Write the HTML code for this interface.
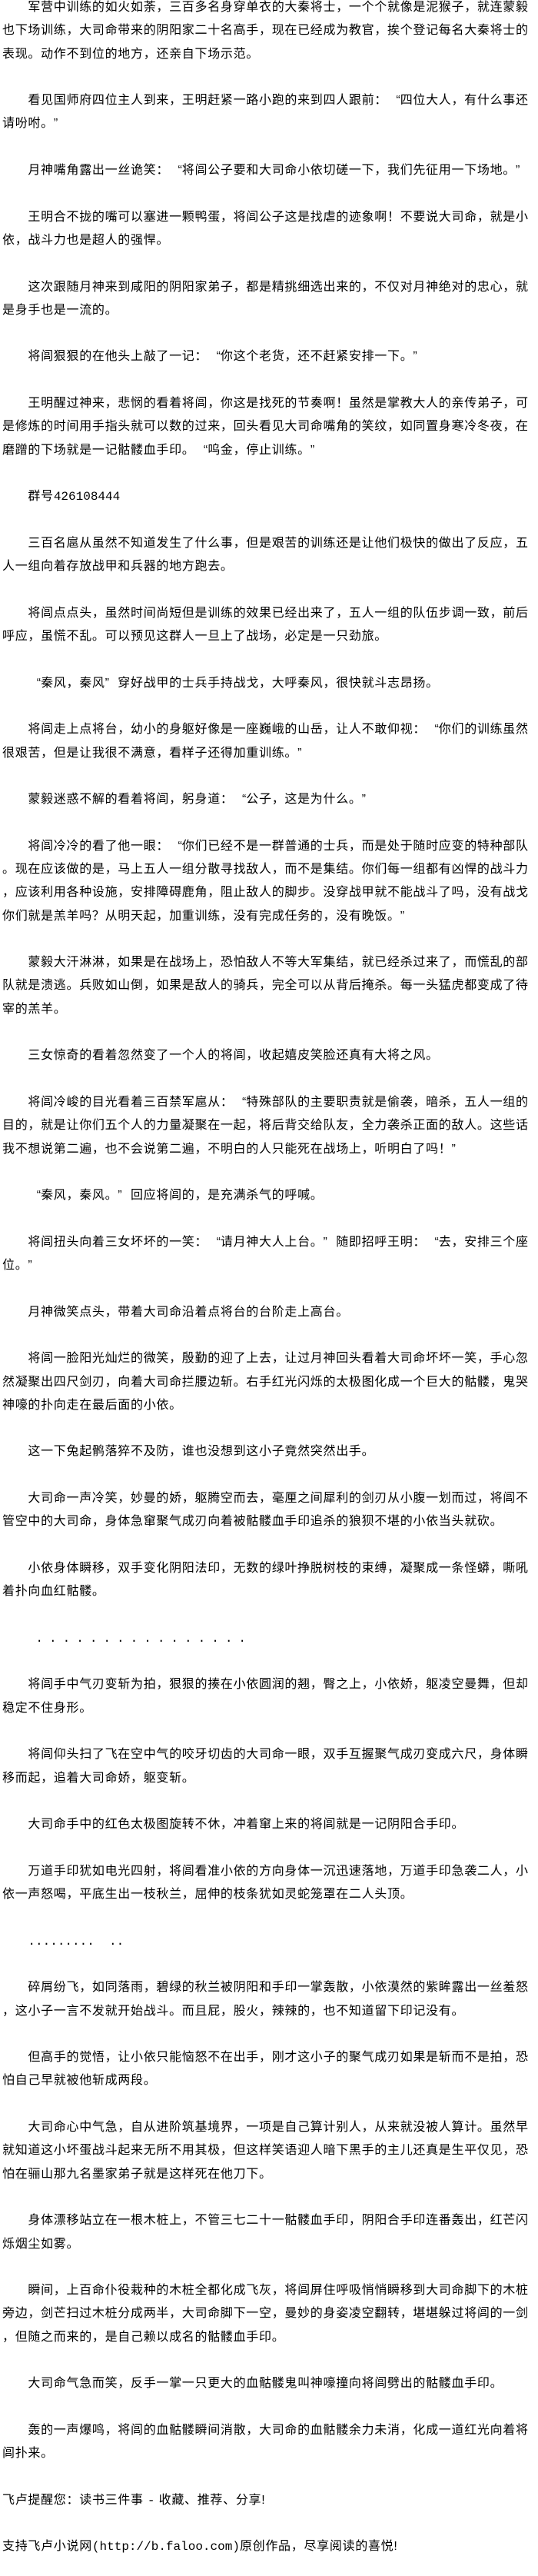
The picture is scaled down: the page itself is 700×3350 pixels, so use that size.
<!DOCTYPE html>
<html><head><meta charset="utf-8">
<style>
html,body{margin:0;padding:0;background:#fff;}
body{width:700px;height:3350px;overflow:hidden;}
.t{margin-top:-5px;padding-left:3px;font-family:"Liberation Sans","Noto Sans CJK SC","WenQuanYi Zen Hei",sans-serif;font-size:16px;letter-spacing:0.7px;line-height:30.3px;color:#000;white-space:pre;}
.m{font-family:"Liberation Mono",monospace;letter-spacing:0;}
.d{font-family:"Liberation Mono",monospace;letter-spacing:8px;padding-left:10px;}
.ql,.qr{display:inline-block;width:16.7px;letter-spacing:0;}
.ql{text-align:right;}
.qr{text-align:left;}
</style></head><body>
<div class="t">　　军营中训练的如火如荼，三百多名身穿单衣的大秦将士，一个个就像是泥猴子，就连蒙毅
也下场训练，大司命带来的阴阳家二十名高手，现在已经成为教官，挨个登记每名大秦将士的
表现。动作不到位的地方，还亲自下场示范。

　　看见国师府四位主人到来，王明赶紧一路小跑的来到四人跟前：<span class="ql">“</span>四位大人，有什么事还
请吩咐。<span class="qr">”</span>

　　月神嘴角露出一丝诡笑：<span class="ql">“</span>将闾公子要和大司命小依切磋一下，我们先征用一下场地。<span class="qr">”</span>

　　王明合不拢的嘴可以塞进一颗鸭蛋，将闾公子这是找虐的迹象啊！不要说大司命，就是小
依，战斗力也是超人的强悍。

　　这次跟随月神来到咸阳的阴阳家弟子，都是精挑细选出来的，不仅对月神绝对的忠心，就
是身手也是一流的。

　　将闾狠狠的在他头上敲了一记：<span class="ql">“</span>你这个老货，还不赶紧安排一下。<span class="qr">”</span>

　　王明醒过神来，悲悯的看着将闾，你这是找死的节奏啊！虽然是掌教大人的亲传弟子，可
是修炼的时间用手指头就可以数的过来，回头看见大司命嘴角的笑纹，如同置身寒冷冬夜，在
磨蹭的下场就是一记骷髅血手印。<span class="ql">“</span>呜金，停止训练。<span class="qr">”</span>

　　群号<span class="m">426108444</span>

　　三百名扈从虽然不知道发生了什么事，但是艰苦的训练还是让他们极快的做出了反应，五
人一组向着存放战甲和兵器的地方跑去。

　　将闾点点头，虽然时间尚短但是训练的效果已经出来了，五人一组的队伍步调一致，前后
呼应，虽慌不乱。可以预见这群人一旦上了战场，必定是一只劲旅。

　　<span class="ql">“</span>秦风，秦风<span class="qr">”</span>穿好战甲的士兵手持战戈，大呼秦风，很快就斗志昂扬。

　　将闾走上点将台，幼小的身躯好像是一座巍峨的山岳，让人不敢仰视：<span class="ql">“</span>你们的训练虽然
很艰苦，但是让我很不满意，看样子还得加重训练。<span class="qr">”</span>

　　蒙毅迷惑不解的看着将闾，躬身道：<span class="ql">“</span>公子，这是为什么。<span class="qr">”</span>

　　将闾冷冷的看了他一眼：<span class="ql">“</span>你们已经不是一群普通的士兵，而是处于随时应变的特种部队
。现在应该做的是，马上五人一组分散寻找敌人，而不是集结。你们每一组都有凶悍的战斗力
，应该利用各种设施，安排障碍鹿角，阻止敌人的脚步。没穿战甲就不能战斗了吗，没有战戈
你们就是羔羊吗？从明天起，加重训练，没有完成任务的，没有晚饭。<span class="qr">”</span>

　　蒙毅大汗淋淋，如果是在战场上，恐怕敌人不等大军集结，就已经杀过来了，而慌乱的部
队就是溃逃。兵败如山倒，如果是敌人的骑兵，完全可以从背后掩杀。每一头猛虎都变成了待
宰的羔羊。

　　三女惊奇的看着忽然变了一个人的将闾，收起嬉皮笑脸还真有大将之风。

　　将闾冷峻的目光看着三百禁军扈从：<span class="ql">“</span>特殊部队的主要职责就是偷袭，暗杀，五人一组的
目的，就是让你们五个人的力量凝聚在一起，将后背交给队友，全力袭杀正面的敌人。这些话
我不想说第二遍，也不会说第二遍，不明白的人只能死在战场上，听明白了吗！<span class="qr">”</span>

　　<span class="ql">“</span>秦风，秦风。<span class="qr">”</span>回应将闾的，是充满杀气的呼喊。

　　将闾扭头向着三女坏坏的一笑：<span class="ql">“</span>请月神大人上台。<span class="qr">”</span>随即招呼王明：<span class="ql">“</span>去，安排三个座
位。<span class="qr">”</span>

　　月神微笑点头，带着大司命沿着点将台的台阶走上高台。

　　将闾一脸阳光灿烂的微笑，殷勤的迎了上去，让过月神回头看着大司命坏坏一笑，手心忽
然凝聚出四尺剑刃，向着大司命拦腰边斩。右手红光闪烁的太极图化成一个巨大的骷髅，鬼哭
神嚎的扑向走在最后面的小依。

　　这一下兔起鹘落猝不及防，谁也没想到这小子竟然突然出手。

　　大司命一声冷笑，妙曼的娇，躯腾空而去，毫厘之间犀利的剑刃从小腹一划而过，将闾不
管空中的大司命，身体急窜聚气成刃向着被骷髅血手印追杀的狼狈不堪的小依当头就砍。

　　小依身体瞬移，双手变化阴阳法印，无数的绿叶挣脱树枝的束缚，凝聚成一条怪蟒，嘶吼
着扑向血红骷髅。

　　<span class="d">................</span>

　　将闾手中气刃变斩为拍，狠狠的揍在小依圆润的翘，臀之上，小依娇，躯凌空曼舞，但却
稳定不住身形。

　　将闾仰头扫了飞在空中气的咬牙切齿的大司命一眼，双手互握聚气成刃变成六尺，身体瞬
移而起，追着大司命娇，躯变斩。

　　大司命手中的红色太极图旋转不休，冲着窜上来的将闾就是一记阴阳合手印。

　　万道手印犹如电光四射，将闾看准小依的方向身体一沉迅速落地，万道手印急袭二人，小
依一声怒喝，平底生出一枝秋兰，屈伸的枝条犹如灵蛇笼罩在二人头顶。

　　<span class="m">.........  ..</span>

　　碎屑纷飞，如同落雨，碧绿的秋兰被阴阳和手印一掌轰散，小依漠然的紫眸露出一丝羞怒
，这小子一言不发就开始战斗。而且屁，股火，辣辣的，也不知道留下印记没有。

　　但高手的觉悟，让小依只能恼怒不在出手，刚才这小子的聚气成刃如果是斩而不是拍，恐
怕自己早就被他斩成两段。

　　大司命心中气急，自从进阶筑基境界，一项是自己算计别人，从来就没被人算计。虽然早
就知道这小坏蛋战斗起来无所不用其极，但这样笑语迎人暗下黑手的主儿还真是生平仅见，恐
怕在骊山那九名墨家弟子就是这样死在他刀下。

　　身体漂移站立在一根木桩上，不管三七二十一骷髅血手印，阴阳合手印连番轰出，红芒闪
烁烟尘如雾。

　　瞬间，上百命仆役栽种的木桩全都化成飞灰，将闾屏住呼吸悄悄瞬移到大司命脚下的木桩
旁边，剑芒扫过木桩分成两半，大司命脚下一空，曼妙的身姿凌空翻转，堪堪躲过将闾的一剑
，但随之而来的，是自己赖以成名的骷髅血手印。

　　大司命气急而笑，反手一掌一只更大的血骷髅鬼叫神嚎撞向将闾劈出的骷髅血手印。

　　轰的一声爆鸣，将闾的血骷髅瞬间消散，大司命的血骷髅余力未消，化成一道红光向着将
闾扑来。

飞卢提醒您：读书三件事 <span class="m">-</span> 收藏、推荐、分享!

支持飞卢小说网<span class="m">(http://b.faloo.com)</span>原创作品，尽享阅读的喜悦!
</div>
</body></html>
